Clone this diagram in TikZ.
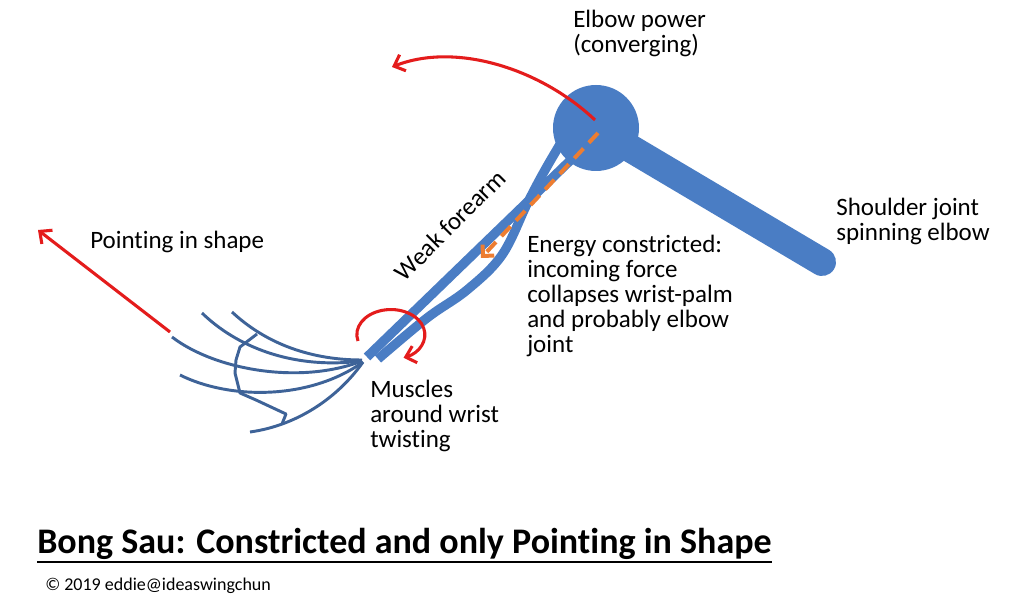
\documentclass[tikz,border=0pt]{standalone}
\usepackage{fontspec}
\setmainfont{Carlito}[Ligatures=NoCommon]
\usetikzlibrary{arrows.meta}
\definecolor{armblue}{RGB}{74,125,196}
\definecolor{handblue}{RGB}{62,99,152}
\definecolor{redarr}{RGB}{228,28,28}
\definecolor{orangearr}{RGB}{237,125,49}
\begin{document}
\begin{tikzpicture}[x=0.75pt,y=-0.75pt,
  bone/.style={draw=armblue,line width=7pt},
  finger/.style={draw=handblue,line width=2.2pt},
  redarrow/.style={draw=redarr,line width=2.3pt,-{Straight Barb[length=7pt,width=13pt,line width=2.3pt]}},
  lbl/.style={font=\fontsize{18.75}{18.75}\selectfont,inner sep=0pt,align=left,anchor=north west}]
\fill[white] (0,0) rectangle (1024,602);
\useasboundingbox (0,0) rectangle (1024,602);
% upper arm and elbow
\coordinate (elbow) at (596,128);
\coordinate (shoulder) at (822,262);
\draw[armblue,line width=21pt,line cap=round] (elbow) -- (shoulder);
\fill[armblue] (elbow) circle[radius=43];
% forearm bones (crossing)
\draw[bone] plot[smooth,tension=0.6] coordinates {(565,136) (545,170) (527,204) (502,255) (467,290) (427,318) (378,359)};
\draw[bone] (578,153) -- (367,357);
% orange dashed force
\coordinate (dstart) at (598,133);
\coordinate (dend) at (481,258);
\draw[orangearr,line width=3pt,dash pattern=on 10pt off 6pt,-{Straight Barb[length=6pt,width=12pt,line width=3pt]}] (dstart) -- (dend);
% hand
\draw[finger] (232,312) .. controls (262,340) and (305,360) .. (362,360);
\draw[finger] (202,313) .. controls (235,345) and (290,370) .. (362,361);
\draw[finger] (172,337) .. controls (215,370) and (300,385) .. (362,361);
\draw[finger] (180,375) .. controls (230,400) and (310,400) .. (363,362);
\draw[finger] (250,432) .. controls (300,425) and (340,395) .. (363,362);
\draw[finger,line join=round] (257,334) -- (240,347) -- (236,360) -- (235,373) -- (240,393) -- (256,400) -- (271,407) -- (286,414) -- (282,424);
% red arrows
\coordinate (ptail) at (170,332);
\coordinate (ptip) at (38,230);
\draw[redarrow] (ptail) -- (ptip);
\coordinate (estart) at (595,120);
\coordinate (etip) at (392,67);
\draw[redarrow] (estart) .. controls (540,68) and (455,42) .. (etip);
\draw[redarrow] (358,341) arc[start angle=165,end angle=428,x radius=34,y radius=25];
% labels
\node[lbl] (elbowlbl) at (573,10) {Elbow power\\(converging)};
\node[lbl] (pointlbl) at (90,231) {Pointing in shape};
\node[lbl,anchor=center,rotate=45] (weaklbl) at (450,225) {Weak forearm};
\node[lbl] (energylbl) at (527,235) {Energy constricted:\\incoming force\\collapses wrist-palm\\and probably elbow\\joint};
\node[lbl] (shoulderlbl) at (836,198) {Shoulder joint\\spinning elbow};
\node[lbl] (musclelbl) at (370,380) {Muscles\\around wrist\\twisting};
\node[inner sep=0pt,anchor=base west,font=\fontsize{27}{27}\selectfont\bfseries] (title) at (37,553) {Bong Sau: Constricted and only Pointing in Shape};
\draw[line width=1.6pt] ([yshift=-6.75pt]title.base west) -- ([yshift=-6.75pt]title.base east);
\node[inner sep=0pt,anchor=base west,font=\fontsize{13.5}{13.5}\selectfont] (copy) at (45,590) {© 2019 eddie@ideaswingchun};
\end{tikzpicture}
\end{document}
